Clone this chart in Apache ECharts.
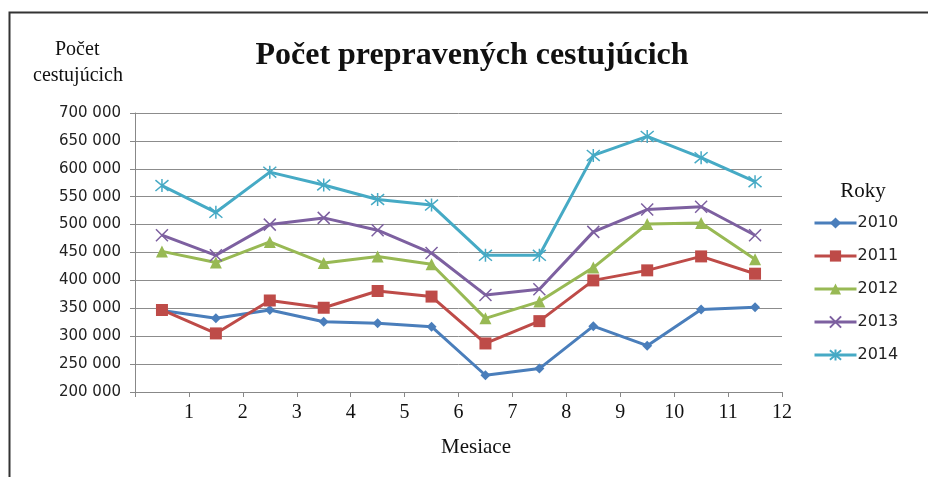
<!DOCTYPE html>
<html>
<head>
<meta charset="utf-8">
<script src="https://cdn.jsdelivr.net/npm/echarts@6/dist/echarts.min.js"></script>
<style>
  html, body { margin: 0; padding: 0; background: #fff; }
  #chart { width: 928px; height: 477px; }
</style>
</head>
<body>
<div id="chart"></div>
<script>
// mesiace (kategórie)
const months = ['1', '2', '3', '4', '5', '6', '7', '8', '9', '10', '11', '12']
const years = ['2010', '2011', '2012', '2013', '2014']

// počet cestujúcich podľa rokov
const v2010 = [346000, 332000, 347000, 326000, 323000, 317000, 230000, 242000, 318000, 283000, 348000, 352000]
const v2011 = [347000, 305000, 364000, 351000, 381000, 371000, 287000, 327000, 400000, 418000, 443000, 412000]
const v2012 = [452000, 432000, 469000, 431000, 443000, 429000, 332000, 362000, 423000, 501000, 503000, 438000]
const v2013 = [481000, 445000, 500000, 512000, 490000, 449000, 374000, 384000, 487000, 527000, 532000, 481000]
const v2014 = [570000, 522000, 594000, 571000, 545000, 535000, 445000, 445000, 624000, 658000, 620000, 577000]

const colors = ['#4A7EBB', '#BE4B48', '#98B954', '#7D60A0', '#46AAC5']
const symbols = [
  'diamond',
  'rect',
  'triangle',
  'path://M0,0L10,10M10,0L0,10',
  'path://M0,0L10,10M10,0L0,10M5,-1L5,11'
]
const sizes = [10, 12, 12, 12, 13]
const values = [v2010, v2011, v2012, v2013, v2014]

const serif = '"Liberation Serif", "Times New Roman", serif'
const sans = '"DejaVu Sans", sans-serif'

const fmt = (v) => String(v).replace(/\B(?=(\d{3})+(?!\d))/g, ' ')

const series = years.map((y, i) => {
  const isPath = symbols[i].startsWith('path://')
  return {
    name: y,
    type: 'line',
    xAxisIndex: 0,
    data: values[i],
    symbol: symbols[i],
    symbolSize: sizes[i],
    lineStyle: { color: colors[i], width: 3 },
    itemStyle: isPath
      ? { color: colors[i], borderColor: colors[i], borderWidth: 1.5 }
      : { color: colors[i] },
    emphasis: { disabled: true },
    z: 2 + i
  }
})

const option = {
  animation: false,
  backgroundColor: '#fff',
  title: [
    {
      text: 'Počet prepravených cestujúcich',
      left: 467,
      top: 35,
      textAlign: 'center',
      textStyle: { fontFamily: serif, fontSize: 32, fontWeight: 'bold', color: '#111' }
    },
    {
      text: 'Roky',
      left: 858,
      top: 176,
      textAlign: 'center',
      textStyle: { fontFamily: serif, fontSize: 21, fontWeight: 'normal', color: '#111' }
    }
  ],
  graphic: [
    {
      type: 'rect',
      shape: { x: 9.5, y: 12.5, width: 1000, height: 600 },
      style: { fill: 'none', stroke: '#333', lineWidth: 2 },
      silent: true
    },
    {
      type: 'text',
      left: 55,
      top: 40,
      style: { text: 'Počet', font: '20px ' + serif, fill: '#111' }
    },
    {
      type: 'text',
      left: 33,
      top: 66,
      style: { text: 'cestujúcich', font: '20px ' + serif, fill: '#111' }
    },
    {
      type: 'text',
      left: 441,
      top: 437,
      style: { text: 'Mesiace', font: '21px ' + serif, fill: '#111' }
    }
  ],
  legend: {
    orient: 'vertical',
    left: 808,
    top: 210,
    itemWidth: 42,
    itemHeight: 14,
    itemGap: 17,
    data: years,
    lineStyle: { width: 3 },
    textStyle: { fontFamily: sans, fontSize: 16, color: '#222', padding: [0, 0, 0, -4] }
  },
  grid: { left: 135, right: 146, top: 113, bottom: 85 },
  xAxis: [
    {
      type: 'category',
      data: months,
      boundaryGap: true,
      show: false
    },
    {
      type: 'value',
      min: 0,
      max: 12,
      interval: 1,
      position: 'bottom',
      axisLine: { show: true, lineStyle: { color: '#888', width: 1 } },
      axisTick: { show: true, length: 5, lineStyle: { color: '#888' } },
      splitLine: { show: false },
      axisLabel: {
        fontFamily: serif,
        fontSize: 20,
        color: '#111',
        margin: 11,
        showMinLabel: true,
        formatter: (v) => (v === 0 ? '' : String(v))
      }
    }
  ],
  yAxis: {
    type: 'value',
    min: 200000,
    max: 700000,
    interval: 50000,
    axisLine: { show: true, lineStyle: { color: '#888', width: 1 } },
    axisTick: { show: true, length: 5, lineStyle: { color: '#888' } },
    splitLine: { show: true, lineStyle: { color: '#8c8c8c', width: 1 } },
    axisLabel: {
      fontFamily: sans,
      fontSize: 15,
      color: '#222',
      margin: 14,
      formatter: fmt
    }
  },
  series
}

const myChart = echarts.init(document.getElementById('chart'))
myChart.setOption(option)
window.onresize = () => {
  myChart.resize()
}
</script>
</body>
</html>
